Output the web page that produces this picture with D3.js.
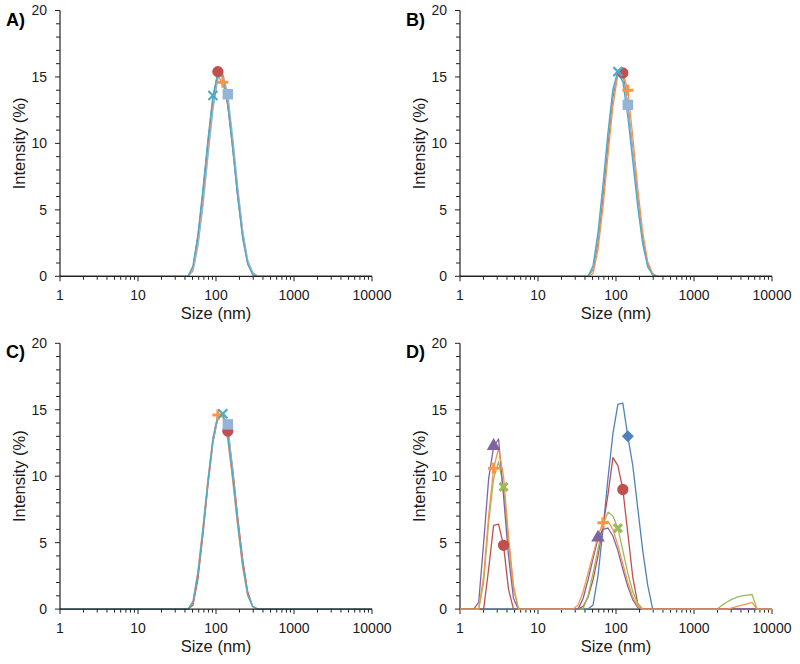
<!DOCTYPE html>
<html><head><meta charset="utf-8">
<script src="https://cdn.jsdelivr.net/npm/d3@7/dist/d3.min.js"></script>
<style>
body{margin:0;background:#fff}
svg{display:block}
text{font-family:"Liberation Sans",Arial,Helvetica,sans-serif;fill:#1a1a1a}
</style>
</head><body>
<svg id="chart" width="800" height="664"></svg>
<script>
// Size classes (nm) of the DLS instrument
const sizes = [0.4,0.4632,0.5365,0.6213,0.7195,0.8332,0.9649,1.117,1.294,1.499,1.736,2.01,2.328,2.696,3.122,3.615,4.187,4.849,5.615,6.503,7.531,8.721,10.1,11.7,13.54,15.69,18.17,21.04,24.36,28.21,32.67,37.84,43.82,50.75,58.77,68.06,78.82,91.28,105.7,122.4,141.8,164.2,190.1,220.2,255,295.3,342,396.1,458.7,531.2,615.1,712.4,825,955.4,1106,1281,1484,1718,1990,2305,2669,3091,3580,4145,4801,5560,6439,7456,8635,10000];
const xTicks = [1,10,100,1000,10000];
const yTicks = [0,5,10,15,20];
const panelLabels = ["A)","B)","C)","D)"];
const xTitle = "Size (nm)";
const yTitle = "Intensity (%)";

// Intensity values (%) — each segment starts at the given size class, zero elsewhere
// Panel A (bins 43.82 … 342)
const A_red    = [0,0.7,3.0,6.3,10.0,13.3,15.4,15.0,12.8,9.6,6.0,3.0,1.0,0.2,0];
const A_orange = [0,0.5,2.5,5.6,9.3,12.8,15.0,14.6,13.0,10.0,6.4,3.3,1.1,0.2,0];
const A_sky    = [0,0.4,2.3,5.3,9.0,12.5,14.9,15.2,13.7,10.4,6.7,3.4,1.2,0.3,0];
const A_teal   = [0,0.8,3.2,6.6,10.3,13.6,15.3,15.1,12.9,9.5,5.9,2.8,0.9,0.1,0];
// Panel B
const B_red    = [0,0.5,2.6,6.0,9.9,13.5,15.5,15.3,12.9,9.4,5.8,2.8,0.9,0.1,0];
const B_orange = [0,0.2,2.0,5.2,9.1,12.8,15.2,15.3,14.0,10.5,6.6,3.3,1.1,0.2,0];
const B_sky    = [0,0.6,2.9,6.5,10.4,13.8,15.4,14.9,12.9,9.3,5.6,2.6,0.8,0.1,0];
const B_teal   = [0,0.8,3.3,6.9,10.8,14.1,15.4,14.6,12.0,8.6,5.2,2.4,0.7,0.1,0];
// Panel C
const C_red    = [0,0.3,2.3,5.6,9.3,12.5,14.4,14.6,13.4,10.5,6.9,3.7,1.3,0.2,0];
const C_orange = [0,0.6,2.9,6.2,9.8,12.9,14.6,14.5,12.7,9.6,6.2,3.1,1.0,0.2,0];
const C_sky    = [0,0.5,2.7,5.9,9.5,12.6,14.4,14.5,13.9,10.3,6.6,3.4,1.1,0.2,0];
const C_teal   = [0,0.5,2.7,6.0,9.6,12.8,14.6,14.7,13.0,9.9,6.4,3.3,1.1,0.2,0];
// Panel D
const D_blue     = [0,0.3,2.5,6.0,9.8,13.2,15.4,15.5,13.0,10.8,7.6,4.4,1.8,0];          // from 43.82
const D_red_1    = [0,3.0,6.3,6.4,4.8,1.5,0];                                            // from 2.01
const D_red_2    = [0,0.2,0.9,2.2,4.0,6.2,8.6,11.4,10.8,9.0,5.7,2.4,0.4,0];              // from 32.67
const D_green_1  = [0,2.0,6.5,9.8,11.1,9.2,5.0,1.5,0];                                   // from 1.736
const D_green_2  = [0,1.0,2.7,4.5,6.3,7.3,7.0,6.1,4.4,2.7,1.3,0.4,0];                    // from 37.84
const D_green_3  = [0,0.3,0.55,0.75,0.9,1.0,1.05,1.1,0];                                 // from 1990
const D_purple_1 = [0,0.5,5.0,9.8,12.2,12.8,8.5,4.0,0.8,0];                              // from 1.499
const D_purple_2 = [0,0.8,2.2,3.8,5.3,6.0,6.1,5.5,4.4,3.0,1.7,0.7,0.1,0];                // from 32.67
const D_orange_1 = [0,2.5,7.0,10.6,12.1,10.0,5.5,1.8,0];                                 // from 1.736
const D_orange_2 = [0,0.3,1.3,2.7,4.1,5.5,6.5,6.6,6.0,4.8,3.4,2.0,0.9,0.2,0];            // from 28.21
const D_orange_3 = [0,0.1,0.2,0.3,0.4,0.5,0];                                            // from 2669

const COL = {red:"#C0504D", orange:"#F79646", sky:"#95B3D7", teal:"#4BACC6", blue:"#4F81BD", green:"#9BBB59", purple:"#8064A2"};

const panels = [
  {label:panelLabels[0], left:60, top:10.5, axisOnTop:true, series:[
    {c:COL.red,    m:"circle", segs:[[43.82,A_red]],    marks:[105.7]},
    {c:COL.orange, m:"plus",   segs:[[43.82,A_orange]], marks:[122.4]},
    {c:COL.sky,    m:"square", segs:[[43.82,A_sky]],    marks:[141.8]},
    {c:COL.teal,   m:"x",      segs:[[43.82,A_teal]],   marks:[91.28]}]},
  {label:panelLabels[1], left:460, top:10.5, axisOnTop:true, series:[
    {c:COL.red,    m:"circle", segs:[[43.82,B_red]],    marks:[122.4]},
    {c:COL.orange, m:"plus",   segs:[[43.82,B_orange]], marks:[141.8]},
    {c:COL.sky,    m:"square", segs:[[43.82,B_sky]],    marks:[141.8]},
    {c:COL.teal,   m:"x",      segs:[[43.82,B_teal]],   marks:[105.7]}]},
  {label:panelLabels[2], left:60, top:343.3, axisOnTop:true, series:[
    {c:COL.red,    m:"circle", segs:[[43.82,C_red]],    marks:[141.8]},
    {c:COL.orange, m:"plus",   segs:[[43.82,C_orange]], marks:[105.7]},
    {c:COL.sky,    m:"square", segs:[[43.82,C_sky]],    marks:[141.8]},
    {c:COL.teal,   m:"x",      segs:[[43.82,C_teal]],   marks:[122.4]}]},
  {label:panelLabels[3], left:460, top:343.3, axisOnTop:false, series:[
    {c:COL.blue,   m:"diamond",  segs:[[43.82,D_blue]], marks:[141.8]},
    {c:COL.red,    m:"circle",   segs:[[2.01,D_red_1],[32.67,D_red_2]], marks:[3.615,122.4]},
    {c:COL.green,  m:"xbold",    segs:[[1.736,D_green_1],[37.84,D_green_2],[1990,D_green_3]], marks:[3.615,105.7]},
    {c:COL.purple, m:"triangle", segs:[[1.499,D_purple_1],[32.67,D_purple_2]], marks:[2.696,58.77]},
    {c:COL.orange, m:"plus",     segs:[[1.736,D_orange_1],[28.21,D_orange_2],[2669,D_orange_3]], marks:[2.696,68.06]}]}
];

function build(segs){
  const v = sizes.map(()=>0);
  segs.forEach(([from, vals])=>{
    const i0 = sizes.indexOf(from);
    vals.forEach((d,k)=>{ v[i0+k] = d; });
  });
  return v;
}

const svg = d3.select("#chart");
const W = 312, H = 265.8;
const axisCol = "#222";

panels.forEach((p, pi)=>{
  const g = svg.append("g").attr("transform",`translate(${p.left},${p.top})`);
  const x = d3.scaleLog().domain([1,10000]).range([0,W]);
  const y = d3.scaleLinear().domain([0,20]).range([H,0]);

  const under = g.append("g");
  const cid = "clip"+pi;
  g.append("clipPath").attr("id",cid).append("rect").attr("x",0).attr("y",-2).attr("width",W).attr("height",H+4);
  const plot = g.append("g").attr("clip-path",`url(#${cid})`);
  const over = g.append("g");
  const ax = p.axisOnTop ? over : under;

  // y axis
  const yMinor = d3.range(0,21,1);
  ax.append("line").attr("x1",0).attr("x2",0).attr("y1",0).attr("y2",H).attr("stroke",axisCol).attr("stroke-width",1.2);
  ax.selectAll(".ymin").data(yMinor).enter().append("line")
    .attr("x1",d=> d%5===0 ? -5 : -4).attr("x2",0).attr("y1",d=>y(d)).attr("y2",d=>y(d))
    .attr("stroke",axisCol).attr("stroke-width",1);
  g.selectAll(".ylab").data(yTicks).enter().append("text")
    .attr("x",-13).attr("y",d=>y(d)).attr("dy","0.35em").attr("text-anchor","end")
    .attr("font-size",14).text(d=>d);

  // x axis
  const xMinor = [];
  for (let e=0;e<4;e++) for (let k=1;k<10;k++) xMinor.push(k*Math.pow(10,e));
  xMinor.push(10000);
  ax.append("line").attr("x1",0).attr("x2",W).attr("y1",H).attr("y2",H).attr("stroke",axisCol).attr("stroke-width",1.2);
  ax.selectAll(".xmin").data(xMinor).enter().append("line")
    .attr("x1",d=>x(d)).attr("x2",d=>x(d)).attr("y1",H)
    .attr("y2",d=> xTicks.includes(d) ? H+5 : H+3.5)
    .attr("stroke",axisCol).attr("stroke-width",1);
  g.selectAll(".xlab").data(xTicks).enter().append("text")
    .attr("x",d=>x(d)).attr("y",H+24).attr("text-anchor","middle")
    .attr("font-size",14).text(d=>d);

  // titles
  g.append("text").attr("x",W/2).attr("y",H+43).attr("text-anchor","middle")
    .attr("font-size",16.5).text(xTitle);
  g.append("text").attr("transform",`translate(-35,${H/2}) rotate(-90)`)
    .attr("text-anchor","middle").attr("font-size",16.5).text(yTitle);
  g.append("text").attr("x",-54).attr("y",15).attr("font-size",18).attr("font-weight","bold")
    .style("fill","#000").text(p.label);

  const line = d3.line().x((d,i)=>x(sizes[i])).y(d=>y(d));

  p.series.forEach(s=>{
    s.vals = build(s.segs);
    plot.append("path").attr("d",line(s.vals)).attr("fill","none")
      .attr("stroke",s.c).attr("stroke-width",1.3).attr("stroke-linejoin","round");
  });
  p.series.forEach(s=>{
    s.marks.forEach(ms=>{
      const i = sizes.indexOf(ms);
      const cx = x(sizes[i]), cy = y(s.vals[i]);
      const mg = g.append("g").attr("transform",`translate(${cx},${cy})`);
      if (s.m==="circle") mg.append("path").attr("d",d3.symbol(d3.symbolCircle,100)()).attr("fill",s.c);
      else if (s.m==="square") mg.append("path").attr("d",d3.symbol(d3.symbolSquare,110)()).attr("fill",s.c);
      else if (s.m==="diamond") mg.append("path").attr("d",d3.symbol(d3.symbolSquare,72)()).attr("transform","rotate(45)").attr("fill",s.c);
      else if (s.m==="triangle") mg.append("path").attr("d",d3.symbol(d3.symbolTriangle,80)()).attr("transform","translate(0,-1)").attr("fill",s.c);
      else if (s.m==="plus") mg.append("path").attr("d","M-5.5,0H5.5M0,-5.5V5.5").attr("stroke",s.c).attr("stroke-width",3);
      else if (s.m==="x") mg.append("path").attr("d","M-4.5,-4.5L4.5,4.5M-4.5,4.5L4.5,-4.5").attr("stroke",s.c).attr("stroke-width",2.2);
      else if (s.m==="xbold") mg.append("path").attr("d","M-4,-4L4,4M-4,4L4,-4").attr("stroke",s.c).attr("stroke-width",3.2);
    });
  });
});
</script>
</body></html>
